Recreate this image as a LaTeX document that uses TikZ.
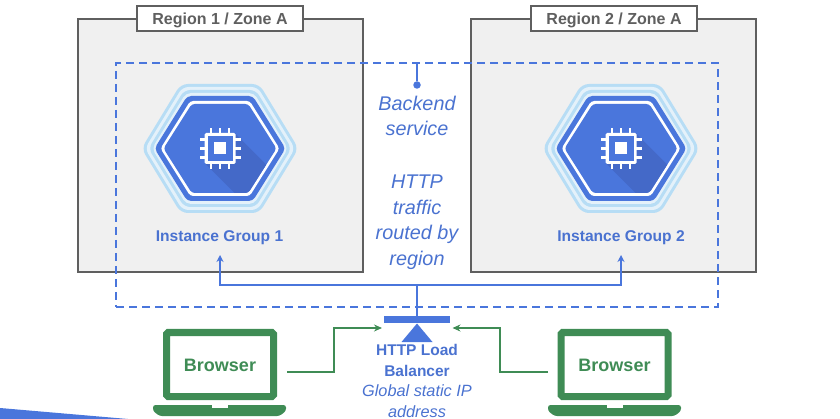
\documentclass[tikz,border=0pt]{standalone}
\usepackage{fontspec}
\setmainfont{Liberation Sans}
\usetikzlibrary{arrows.meta,calc}
\definecolor{gblue}{HTML}{4A76DC}
\definecolor{gtext}{HTML}{4A72D0}
\definecolor{gdark}{HTML}{4469C8}
\definecolor{glight}{HTML}{B7DDF5}
\definecolor{gpale}{HTML}{E4F1FA}
\definecolor{ggreen}{HTML}{3F8C55}
\definecolor{ggrey}{HTML}{5F5F5F}
\definecolor{gfill}{HTML}{F0F0F0}
\newcommand{\hexpath}[2]{(-#1,0) -- (-#1/2,-#2) -- (#1/2,-#2) -- (#1,0) -- (#1/2,#2) -- (-#1/2,#2) -- cycle}
\tikzset{
  x=1pt,y=-1pt,
  regionbox/.style={draw=ggrey,fill=gfill,line width=1.4pt,inner sep=0pt,minimum width=285pt,minimum height=253pt},
  regionlabel/.style={draw=ggrey,fill=white,line width=1.4pt,inner sep=0pt,minimum width=166pt,minimum height=25pt,text=ggrey,text height=12pt,text depth=0pt,font=\fontsize{16}{16}\selectfont\bfseries},
  dashbox/.style={draw=gblue,line width=1.3pt,dash pattern=on 8pt off 5pt,inner sep=0pt,minimum width=602pt,minimum height=244pt},
  bluelabel/.style={text=gtext,align=center,font=\fontsize{19.8}{25.5}\selectfont\itshape},
  grouplabel/.style={text=gtext,text height=12pt,text depth=0pt,font=\fontsize{15.6}{16}\selectfont\bfseries},
  lblabel/.style={text=gtext,align=center,font=\fontsize{15.5}{21}\selectfont\bfseries},
  iplabel/.style={text=gtext,align=center,font=\fontsize{16.3}{20.5}\selectfont\itshape},
  bluewire/.style={draw=gblue,line width=1.5pt},
  bluearrow/.style={bluewire,-{Stealth[length=7pt,width=7pt]}},
  greenarrow/.style={draw=ggreen,line width=1.4pt,-{Stealth[length=8pt,width=7pt]}},
  screenbox/.style={draw=ggreen,fill=white,line width=7pt,rounded corners=1.5pt,inner sep=0pt,minimum width=107pt,minimum height=64pt,text=ggreen,text height=13pt,text depth=0pt,font=\fontsize{18}{18}\selectfont\bfseries},
  dotnode/.style={circle,fill=gblue,inner sep=0pt,minimum size=7.5pt},
  barnode/.style={fill=gblue,inner sep=0pt,minimum width=66pt,minimum height=7pt},
  pics/hexicon/.style={code={
    \fill[glight,rounded corners=7pt] \hexpath{78.5}{64.5};
    \fill[gpale,rounded corners=6pt] \hexpath{75}{61.5};
    \fill[glight,rounded corners=6pt] \hexpath{71.5}{58.5};
    \fill[gpale,rounded corners=5pt] \hexpath{68}{55.5};
    \fill[gblue,rounded corners=4pt] \hexpath{65.5}{52.5};
    \fill[white,rounded corners=3pt] \hexpath{59.5}{47.5};
    \begin{scope}
      \clip[rounded corners=3pt] \hexpath{56.5}{44.5};
      \fill[gblue] (-60,-50) rectangle (60,50);
      \fill[gdark] (15,-15) -- (75,45) -- (45,75) -- (-15,15) -- cycle;
    \end{scope}
    \foreach \d in {-9,0,9}{
      \fill[white] (\d-1.3,-20.5) rectangle (\d+1.3,20.5);
      \fill[white] (-20.5,\d-1.3) rectangle (20.5,\d+1.3);
    }
    \fill[white,rounded corners=1.5pt] (-15.5,-15.5) rectangle (15.5,15.5);
    \fill[gblue] (-12.5,-12.5) rectangle (12.5,12.5);
    \fill[white] (-6,-6) rectangle (6,6);
  }},
  pics/laptopbase/.style={code={
    \fill[ggreen,rounded corners=2.5pt] (-66.5,0) -- (66.5,0) -- (66.5,6) -- (60,11) -- (-60,11) -- (-66.5,6) -- cycle;
    \fill[white] (-8,-0.5) rectangle (8,2.5);
  }}
}
\begin{document}
\begin{tikzpicture}
\useasboundingbox (0,0) rectangle (840,419);
\fill[gblue] (0,408) -- (128,419) -- (0,419) -- cycle;

\node[regionbox] (r1) at (220.5,145.5) {};
\node[regionbox] (r2) at (613.5,145.5) {};
\node[regionlabel] (l1) at (220,18.5) {Region 1 / Zone A};
\node[regionlabel] (l2) at (614,18.5) {Region 2 / Zone A};

\pic at (220,148.5) {hexicon};
\pic at (621,148.5) {hexicon};
\node[grouplabel] (g1) at (219.5,235.7) {Instance Group 1};
\node[grouplabel] (g2) at (621,235.7) {Instance Group 2};

\node[dashbox] (dash) at (417,185) {};
\node[dotnode] (dot) at (417,85) {};
\draw[bluewire] (dash.north -| dot) -- (dot);
\node[bluelabel] (svc) at (417,116) {Backend\\service};
\node[bluelabel] (traffic) at (417,222) {HTTP\\traffic\\routed by\\region};

\node[barnode] (bar) at (417,319.5) {};
\coordinate (junction) at (417,285);
\coordinate (up1) at (220,255);
\coordinate (up2) at (621,255);
\draw[bluewire] (bar.north) -- (junction);
\draw[bluearrow] (junction) -| (up1);
\draw[bluearrow] (junction) -| (up2);
\fill[gblue] (417,323.5) -- (432.5,342) -- (401.5,342) -- cycle;

\node[lblabel] (lb) at (417,360) {HTTP Load\\Balancer};
\node[iplabel] (ip) at (417,401) {Global static IP\\address};

\node[screenbox] (b1) at (220,364.5) {Browser};
\node[screenbox] (b2) at (614.5,364.5) {Browser};
\pic at (219.5,405) {laptopbase};
\pic at (614.5,405) {laptopbase};

\coordinate (in1) at (382,328);
\coordinate (in2) at (452.5,328);
\coordinate (out1) at (287,372);
\coordinate (out2) at (548,372);
\draw[greenarrow] (out1) -- (334,372) |- (in1);
\draw[greenarrow] (out2) -- (500,372) |- (in2);
\end{tikzpicture}
\end{document}
